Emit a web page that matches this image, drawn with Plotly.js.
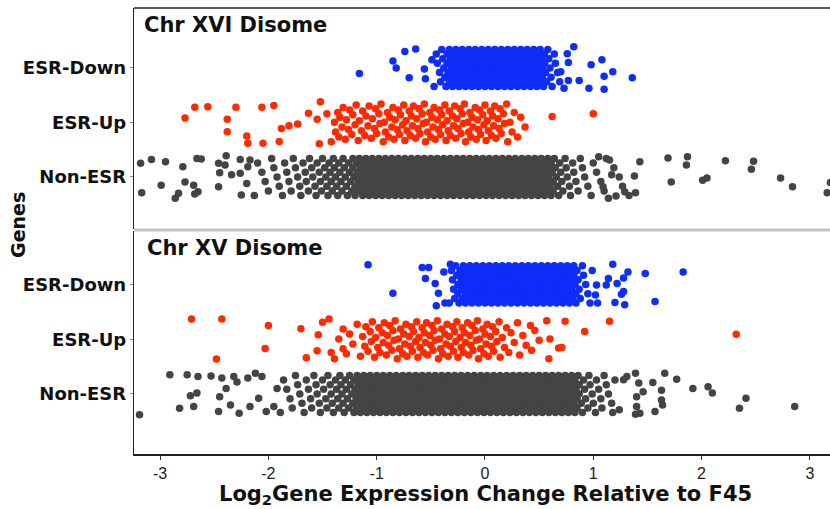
<!DOCTYPE html>
<html><head><meta charset="utf-8">
<script src="https://cdn.plot.ly/plotly-3.0.1.min.js"></script>
<style>html,body{margin:0;padding:0;background:#fff}#chart{width:830px;height:509px}</style>
</head><body><div id="chart"></div>
<script>
// ---- categories / labels ----
const categories = ['Non-ESR', 'ESR-Up', 'ESR-Down'];
const panelTitles = ['Chr XVI Disome', 'Chr XV Disome'];
const xTickVals = [-3, -2, -1, 0, 1, 2, 3];
const xTickText = ['-3', '-2', '-1', '0', '1', '2', '3'];
const xTitle = 'Log<sub>2</sub>Gene Expression Change Relative to F45';
const yTitle = 'Genes';
// jitter offsets (category units) cycled over the point lists
const jitterDense = [-0.34, 0.255, 0.085, -0.085, -0.255, 0.34, 0.17, 0, -0.17];
const jitterLoose = [-0.355,0.005,-0.175,0.185,-0.265,0.095,-0.085,0.275,-0.31,0.05,-0.13,0.23,-0.22,0.14,-0.04,0.32,
                     -0.33,0.03,-0.15,0.21,-0.24,0.12,-0.06,0.3,-0.29,0.07,-0.11,0.25,-0.2,0.16,-0.02,0.34];

// ===== Chr XVI (top panel) =====
const xviNonX = [-2.13,-2.1,-2.06,-2.03,-2,-1.97,-1.95,-1.92,-1.9,-1.87,-1.85,-1.83,-1.81,-1.79,-1.77,-1.75,-1.73,-1.71,-1.7,-1.68,-1.66,-1.65,-1.63,-1.62,-1.6,-1.59,-1.57,-1.56,-1.55,-1.53,-1.52,-1.51,-1.5,-1.48,-1.47,-1.46,-1.45,-1.44,-1.43,-1.42,-1.41,-1.4,-1.39,-1.38,-1.37,-1.36,-1.35,-1.34,-1.33,-1.32,-1.31,-1.3,-1.29,-1.28,-1.27,-1.26,-1.25,-1.24,-1.23,-1.22,-1.22,-1.21,-1.2,-1.2,-1.19,
-1.18,-1.17,-1.17,-1.16,-1.15,-1.15,-1.14,-1.13,-1.13,-1.12,-1.11,-1.11,-1.1,-1.09,-1.09,-1.08,-1.07,-1.07,-1.06,-1.05,-1.05,-1.04,-1.03,-1.03,-1.02,-1.01,-1.01,-1,-0.99,-0.99,-0.98,-0.97,-0.97,-0.96,-0.95,-0.95,-0.94,-0.93,-0.93,-0.92,-0.91,-0.91,-0.9,-0.89,-0.89,-0.88,-0.87,-0.87,-0.86,-0.85,-0.85,-0.84,-0.83,-0.83,-0.82,-0.81,-0.81,-0.8,-0.79,-0.79,-0.78,-0.77,-0.77,-0.76,-0.75,-0.75,-0.74,-0.73,-0.73,-0.72,-0.71,-0.71,-0.7,-0.69,-0.69,-0.68,-0.67,-0.67,-0.66,-0.65,-0.65,-0.64,-0.63,-0.63,-0.62,-0.61,-0.61,-0.6,-0.59,-0.59,-0.58,-0.57,-0.57,-0.56,-0.55,-0.55,-0.54,-0.53,-0.53,-0.52,-0.51,-0.51,-0.5,-0.49,-0.49,-0.48,-0.47,-0.47,-0.46,-0.45,-0.45,-0.44,-0.43,-0.43,-0.42,-0.41,-0.41,-0.4,-0.39,-0.39,-0.38,-0.37,-0.37,-0.36,-0.35,-0.35,-0.34,-0.33,-0.33,-0.32,-0.31,-0.31,-0.3,-0.29,-0.29,-0.28,-0.27,-0.27,-0.26,-0.25,-0.25,-0.24,-0.23,-0.23,-0.22,-0.21,-0.21,-0.2,-0.19,-0.19,-0.18,-0.17,-0.17,-0.16,-0.15,-0.15,-0.14,-0.13,-0.13,-0.12,-0.11,-0.11,-0.1,-0.09,-0.09,-0.08,-0.07,-0.07,-0.06,-0.05,-0.05,-0.04,-0.03,-0.03,-0.02,-0.01,-0.01,0,0.01,0.01,0.02,0.03,0.03,0.04,0.05,0.05,0.06,0.07,0.07,0.08,0.09,0.09,0.1,0.11,0.11,0.12,0.13,0.13,0.14,0.15,0.15,0.16,0.17,0.17,0.18,0.19,0.19,0.2,0.21,0.21,0.22,0.23,0.23,0.24,0.25,0.25,0.26,0.27,0.27,0.28,0.29,0.29,0.3,0.31,0.31,0.32,0.33,0.33,0.34,0.35,0.35,0.36,0.37,0.37,0.38,0.39,0.39,0.4,0.41,0.41,0.42,0.43,0.43,0.44,0.45,0.45,0.46,0.47,0.47,0.48,0.49,0.49,0.5,0.51,0.51,0.52,0.53,0.53,0.54,0.55,0.55,0.56,0.57,0.57,0.58,0.59,0.59,0.6,0.61,0.61,0.62,0.63,0.63,
0.64,0.65,0.66,0.67,0.68,0.69,0.7,0.71,0.72,0.74,0.75,0.76,0.78,0.79,0.81,0.82,0.84,0.86,0.88,0.9,0.92,0.95,0.98,1,1.03,1.07,1.1,1.12,1.19,1.24,1.27,1.33];
const xviNonOutX = [-3.18,-3.17,-3.08,-2.99,-2.95,-2.86,-2.83,-2.79,-2.77,-2.69,-2.66,-2.62,-2.65,-2.68,-2.46,-2.45,-2.46,-2.39,-2.4,-2.34,-2.25,-2.26,-2.26,-2.19,-2.2,-2.17,
1.05,1.15,1.17,1.09,1.21,1.14,1.29,1.39,1.38,1.43,1.69,1.87,1.86,1.72,2.01,2.05,2.22,2.48,2.46,2.73,2.84,3.16,3.19];
const xviNonOutJ = [0.25,-0.29,0.32,-0.15,0.28,-0.39,-0.3,0.19,-0.09,-0.15,0.34,0.33,-0.27,-0.31,0.25,0.08,-0.18,0.39,0.22,0.04,-0.33,0.32,0.07,0.19,-0.12,0.31,
0.37,0.31,0.04,-0.18,-0.35,-0.39,-0.27,-0.29,0.02,0.28,0.35,0.37,0.22,-0.09,-0.06,-0.02,0.3,0.29,0.14,-0.02,-0.18,-0.29,-0.1];

const xviUpX = [-1.42,-1.39,-1.38,-1.36,-1.35,-1.34,-1.32,-1.31,-1.29,-1.28,-1.26,-1.25,-1.23,-1.22,-1.2,-1.19,-1.17,-1.16,-1.14,-1.13,-1.11,-1.1,-1.08,-1.07,-1.05,-1.04,-1.02,-1.01,-1,-0.98,-0.97,-0.96,-0.94,-0.93,-0.92,-0.9,-0.89,-0.88,-0.86,-0.85,-0.84,-0.83,-0.81,-0.8,-0.79,-0.78,-0.76,-0.75,-0.74,-0.73,-0.72,-0.7,-0.69,-0.68,-0.67,-0.66,-0.64,-0.63,-0.62,-0.61,-0.6,-0.58,-0.57,-0.56,-0.55,-0.54,-0.53,-0.51,-0.5,-0.49,-0.48,-0.47,-0.46,-0.44,-0.43,-0.42,-0.41,-0.4,-0.39,-0.37,-0.36,-0.35,-0.34,-0.33,-0.32,-0.3,-0.29,-0.28,-0.27,-0.26,-0.25,-0.23,-0.22,-0.21,-0.2,-0.19,-0.18,-0.16,-0.15,-0.14,-0.13,-0.12,-0.11,-0.09,-0.08,-0.07,-0.06,-0.05,-0.04,-0.02,-0.01,0,0.01,0.02,0.03,0.05,0.06,0.07,0.08,0.09,0.1,0.12,0.13,0.14,0.15,0.17,0.18,0.2,0.21,0.23,0.25,0.27,0.3,0.33,0.37];
const xviUpOutX = [-2.68,-2.56,-2.77,-2.3,-2.38,-2.38,-2.06,-1.95,-2.2,-2.19,-2.05,-1.9,-1.88,-1.81,-1.73,-1.63,-1.55,-1.52,-1.53,-1.46,0.62,1];
const xviUpOutJ = [0.28,0.29,0.08,0.28,0.06,-0.17,0.28,0.31,-0.25,-0.38,-0.38,-0.35,-0.11,-0.06,-0.03,0.17,0.06,0.38,-0.39,0.16,0.11,0.16];

const xviDownX = [-0.47,-0.45,-0.44,-0.42,-0.41,-0.4,-0.39,-0.38,-0.37,-0.36,-0.35,-0.35,-0.34,-0.33,-0.33,
-0.32,-0.31,-0.31,-0.3,-0.29,-0.29,-0.28,-0.27,-0.27,-0.26,-0.25,-0.25,-0.24,-0.23,-0.23,-0.22,-0.21,-0.21,-0.2,-0.19,-0.19,-0.18,-0.17,-0.17,-0.16,-0.15,-0.15,-0.14,-0.13,-0.13,-0.12,-0.11,-0.11,-0.1,-0.09,-0.09,-0.08,-0.07,-0.07,-0.06,-0.05,-0.05,-0.04,-0.03,-0.03,-0.02,-0.01,-0.01,0,0.01,0.01,0.02,0.03,0.03,0.04,0.05,0.05,0.06,0.07,0.07,0.08,0.09,0.09,0.1,0.11,0.11,0.12,0.13,0.13,0.14,0.15,0.15,0.16,0.17,0.17,0.18,0.19,0.19,0.2,0.21,0.21,0.22,0.23,0.23,0.24,0.25,0.25,0.26,0.27,0.27,0.28,0.29,0.29,0.3,0.31,0.31,0.32,0.33,0.33,0.34,0.35,0.35,0.36,0.37,0.37,0.38,0.39,0.39,0.4,0.41,0.41,0.42,0.43,0.43,0.44,0.45,0.45,0.46,0.47,0.47,0.48,0.49,0.49,0.5,0.51,0.51,0.52,0.53,0.53,0.54,0.55,0.55,
0.56,0.57,0.58,0.59,0.6,0.61,0.62,0.64,0.65,0.67,0.69];
const xviDownOutX = [-1.16,-0.85,-0.82,-0.74,-0.64,-0.7,-0.56,-0.55,-0.49,0.82,0.76,0.77,0.7,0.77,0.73,0.87,0.98,1.08,0.96,1.1,1.1,1.18,1.36];
const xviDownOutJ = [-0.1,0.13,0,0.3,0.35,-0.18,-0.02,-0.2,0.15,0.39,0.26,0.1,-0.07,-0.23,-0.37,-0.23,0.06,0.15,-0.37,-0.15,-0.39,-0.07,-0.18];

// ===== Chr XV (bottom panel) =====
const xvNonX = [-1.89,-1.86,-1.83,-1.8,-1.78,-1.75,-1.73,-1.71,-1.69,-1.67,-1.65,-1.63,-1.61,-1.6,-1.58,-1.56,-1.55,-1.53,-1.52,-1.5,-1.49,-1.47,-1.46,-1.45,-1.43,-1.42,-1.41,-1.4,-1.38,-1.37,-1.36,-1.35,-1.34,-1.33,-1.32,-1.31,-1.3,-1.29,-1.28,-1.27,-1.26,-1.25,-1.24,-1.23,-1.22,-1.21,-1.21,-1.2,-1.19,-1.19,-1.18,-1.17,-1.17,
-1.16,-1.15,-1.15,-1.14,-1.13,-1.13,-1.12,-1.11,-1.11,-1.1,-1.09,-1.09,-1.08,-1.07,-1.07,-1.06,-1.05,-1.05,-1.04,-1.03,-1.03,-1.02,-1.01,-1.01,-1,-0.99,-0.99,-0.98,-0.97,-0.97,-0.96,-0.95,-0.95,-0.94,-0.93,-0.93,-0.92,-0.91,-0.91,-0.9,-0.89,-0.89,-0.88,-0.87,-0.87,-0.86,-0.85,-0.85,-0.84,-0.83,-0.83,-0.82,-0.81,-0.81,-0.8,-0.79,-0.79,-0.78,-0.77,-0.77,-0.76,-0.75,-0.75,-0.74,-0.73,-0.73,-0.72,-0.71,-0.71,-0.7,-0.69,-0.69,-0.68,-0.67,-0.67,-0.66,-0.65,-0.65,-0.64,-0.63,-0.63,-0.62,-0.61,-0.61,-0.6,-0.59,-0.59,-0.58,-0.57,-0.57,-0.56,-0.55,-0.55,-0.54,-0.53,-0.53,-0.52,-0.51,-0.51,-0.5,-0.49,-0.49,-0.48,-0.47,-0.47,-0.46,-0.45,-0.45,-0.44,-0.43,-0.43,-0.42,-0.41,-0.41,-0.4,-0.39,-0.39,-0.38,-0.37,-0.37,-0.36,-0.35,-0.35,-0.34,-0.33,-0.33,-0.32,-0.31,-0.31,-0.3,-0.29,-0.29,-0.28,-0.27,-0.27,-0.26,-0.25,-0.25,-0.24,-0.23,-0.23,-0.22,-0.21,-0.21,-0.2,-0.19,-0.19,-0.18,-0.17,-0.17,-0.16,-0.15,-0.15,-0.14,-0.13,-0.13,-0.12,-0.11,-0.11,-0.1,-0.09,-0.09,-0.08,-0.07,-0.07,-0.06,-0.05,-0.05,-0.04,-0.03,-0.03,-0.02,-0.01,-0.01,0,0.01,0.01,0.02,0.03,0.03,0.04,0.05,0.05,0.06,0.07,0.07,0.08,0.09,0.09,0.1,0.11,0.11,0.12,0.13,0.13,0.14,0.15,0.15,0.16,0.17,0.17,0.18,0.19,0.19,0.2,0.21,0.21,0.22,0.23,0.23,0.24,0.25,0.25,0.26,0.27,0.27,0.28,0.29,0.29,0.3,0.31,0.31,0.32,0.33,0.33,0.34,0.35,0.35,0.36,0.37,0.37,0.38,0.39,0.39,0.4,0.41,0.41,0.42,0.43,0.43,0.44,0.45,0.45,0.46,0.47,0.47,0.48,0.49,0.49,0.5,0.51,0.51,0.52,0.53,0.53,0.54,0.55,0.55,0.56,0.57,0.57,0.58,0.59,0.59,0.6,0.61,0.61,0.62,0.63,0.63,0.64,0.65,0.65,0.66,0.67,0.67,0.68,0.69,0.69,0.7,0.71,0.71,0.72,0.73,0.73,0.74,0.75,0.75,0.76,0.77,0.77,0.78,0.79,0.79,0.8,0.81,0.81,0.82,0.83,0.83,0.84,0.85,0.85,0.86,0.87,0.87,
0.89,0.9,0.91,0.92,0.93,0.95,0.96,0.97,0.99,1,1.02,1.03,1.05,1.07,1.08,1.1,1.12,1.14,1.17,1.18,1.2];
const xvNonOutX = [-3.19,-2.91,-2.82,-2.75,-2.72,-2.65,-2.69,-2.66,-2.53,-2.45,-2.46,-2.43,-2.39,-2.32,-2.35,-2.27,-2.29,-2.19,-2.17,-2.12,-2.06,-2.09,-2.02,-1.95,-1.92,
1.66,1.77,1.92,2.06,2.1,1.63,1.63,1.64,1.57,1.55,2.41,2.35,2.86,1.46,1.42,1.39,1.4,1.4,1.39,1.43,1.31,1.28,1.24];
const xvNonOutJ = [-0.38,0.35,-0.26,0.35,-0.03,0.32,-0.23,0.02,0.33,-0.05,-0.32,0.29,0.1,0.32,-0.2,-0.35,0.22,0.29,-0.23,0.38,0.32,-0.08,-0.32,-0.23,0.1,
0.38,0.27,0.1,0.13,0.02,0.07,-0.11,-0.2,-0.32,0.21,-0.08,-0.26,-0.23,0.04,0.2,0.38,-0.05,-0.23,-0.37,-0.35,0.32,0.26,-0.29];

const xvUpX = [-1.39,-1.35,-1.31,-1.31,-1.28,-1.25,-1.22,-1.18,-1.15,-1.13,-1.11,-1.1,-1.08,-1.06,-1.05,-1.04,-1.02,-1.01,-0.99,-0.98,-0.97,-0.95,-0.94,-0.93,-0.91,-0.9,-0.89,-0.88,-0.86,-0.85,-0.84,-0.83,-0.81,-0.8,-0.79,-0.78,-0.76,-0.75,-0.74,-0.73,-0.72,-0.7,-0.69,-0.68,-0.67,-0.66,-0.64,-0.63,-0.62,-0.61,-0.6,-0.58,-0.57,-0.56,-0.55,-0.54,-0.53,-0.51,-0.5,-0.49,-0.48,-0.47,-0.46,-0.44,-0.43,-0.42,-0.41,-0.4,-0.39,-0.37,-0.36,-0.35,-0.34,-0.33,-0.32,-0.3,-0.29,-0.28,-0.27,-0.26,-0.25,-0.23,-0.22,-0.21,-0.2,-0.19,-0.18,-0.16,-0.15,-0.14,-0.13,-0.12,-0.11,-0.09,-0.08,-0.07,-0.06,-0.05,-0.04,-0.02,-0.01,0,0.01,0.02,0.03,0.05,0.06,0.07,0.08,0.1,0.11,0.13,0.14,0.16,0.18,0.2,0.22,0.24,0.27,0.3,0.32,0.35,0.38,0.42,0.43,0.46,0.5,0.57,0.59,0.6];
const xvUpOutX = [-2.71,-2.43,-2.48,-2,-2.03,-1.7,-1.65,-1.5,-1.44,-1.54,-1.55,-1.42,0.92,1.15,2.32,0.74,0.71,0.68];
const xvUpOutJ = [0.37,0.37,-0.36,0.25,-0.17,0.19,-0.34,0.31,0.37,0.08,-0.21,-0.24,0.14,0.33,0.09,0.33,-0.15,-0.16];

const xvDownX = [-0.33,-0.31,-0.3,-0.29,-0.28,-0.27,-0.26,-0.25,-0.25,-0.24,
-0.23,-0.22,-0.22,-0.21,-0.2,-0.2,-0.19,-0.18,-0.18,-0.17,-0.16,-0.16,-0.15,-0.14,-0.14,-0.13,-0.12,-0.12,-0.11,-0.1,-0.1,-0.09,-0.08,-0.08,-0.07,-0.06,-0.06,-0.05,-0.04,-0.04,-0.03,-0.02,-0.02,-0.01,0,0,0.01,0.02,0.02,0.03,0.04,0.04,0.05,0.06,0.06,0.07,0.08,0.08,0.09,0.1,0.1,0.11,0.12,0.12,0.13,0.14,0.14,0.15,0.16,0.16,0.17,0.18,0.18,0.19,0.2,0.2,0.21,0.22,0.22,0.23,0.24,0.24,0.25,0.26,0.26,0.27,0.28,0.28,0.29,0.3,0.3,0.31,0.32,0.32,0.33,0.34,0.34,0.35,0.36,0.36,0.37,0.38,0.38,0.39,0.4,0.4,0.41,0.42,0.42,0.43,0.44,0.44,0.45,0.46,0.46,0.47,0.48,0.48,0.49,0.5,0.5,0.51,0.52,0.52,0.53,0.54,0.54,0.55,0.56,0.56,0.57,0.58,0.58,0.59,0.6,0.6,0.61,0.62,0.62,0.63,0.64,0.64,0.65,0.66,0.66,0.67,0.68,0.68,0.69,0.7,0.7,0.71,0.72,0.72,0.73,0.74,0.74,0.75,0.76,0.76,0.77,0.78,0.78,0.79,0.8,0.8,0.81,0.82,0.82,0.83,0.84,0.84,
0.85,0.86,0.87,0.88,0.9,0.91,0.93,0.95,0.97,0.99];
const xvDownOutX = [-1.08,-0.85,-0.58,-0.52,-0.55,-0.46,-0.43,-0.45,-0.38,-0.32,-0.37,1.18,1.32,1.28,1.22,1.28,1.26,1.2,1.29,1.48,1.83,1.57,1.03,1.14,1.12,1.04,1.02];
const xvDownOutJ = [0.36,-0.16,0.31,0.31,0.11,0.02,-0.16,-0.39,0.23,0.37,-0.34,0.37,0.23,0.12,0.02,-0.13,-0.18,-0.33,-0.37,0.2,0.23,-0.31,-0.01,0.11,-0.01,-0.34,-0.19];

const colors = ['#444444', '#ff2a00', '#0f2df8'];

function group(coreX, outX, outJ, level, color, jit, xa, ya) {
  const y = coreX.map((v, i) => level + jit[i % jit.length])
                 .concat(outJ.map(j => level + j));
  return {
    type: 'scatter', mode: 'markers', x: coreX.concat(outX), y: y,
    xaxis: xa, yaxis: ya, hoverinfo: 'skip', showlegend: false, cliponaxis: true,
    marker: {size: 7.5, color: color, line: {width: 0}}
  };
}

const traces = [
  group(xviNonX, xviNonOutX, xviNonOutJ, 1, colors[0], jitterDense, 'x2', 'y2'),
  group(xviUpX, xviUpOutX, xviUpOutJ, 2, colors[1], jitterLoose, 'x2', 'y2'),
  group(xviDownX, xviDownOutX, xviDownOutJ, 3, colors[2], jitterDense, 'x2', 'y2'),
  group(xvNonX, xvNonOutX, xvNonOutJ, 1, colors[0], jitterDense, 'x', 'y'),
  group(xvUpX, xvUpOutX, xvUpOutJ, 2, colors[1], jitterLoose, 'x', 'y'),
  group(xvDownX, xvDownOutX, xvDownOutJ, 3, colors[2], jitterDense, 'x', 'y')
];

const catFont = {family: 'DejaVu Sans', size: 18, color: '#111', weight: 'bold'};
const yCommon = {
  tickmode: 'array', tickvals: [1, 2, 3], ticktext: categories,
  tickfont: catFont, ticks: 'outside', ticklen: 3, tickcolor: '#888',
  showline: true, linecolor: '#222', linewidth: 1.2,
  showgrid: false, zeroline: false, fixedrange: true
};
const xRange = [-3.241, 3.186];

const layout = {
  width: 830, height: 509,
  margin: {l: 134, r: 0, t: 8, b: 55},
  paper_bgcolor: '#fff', plot_bgcolor: '#fff',
  xaxis: {
    domain: [0, 1], anchor: 'y', range: xRange,
    tickmode: 'array', tickvals: xTickVals, ticktext: xTickText,
    tickfont: {family: 'Liberation Sans', size: 16, color: '#1a1a1a'},
    ticks: 'outside', ticklen: 4, tickcolor: '#333',
    showline: true, linecolor: '#222', linewidth: 1.5,
    showgrid: false, zeroline: false, fixedrange: true
  },
  xaxis2: {
    domain: [0, 1], anchor: 'y2', range: xRange, matches: 'x',
    showticklabels: false, ticks: '', showline: false,
    showgrid: false, zeroline: false, fixedrange: true
  },
  yaxis: Object.assign({domain: [0, 0.4989], anchor: 'x', range: [-0.096, 3.968]}, yCommon),
  yaxis2: Object.assign({domain: [0.5056, 1], anchor: 'x2', range: [0.055, 4.10]}, yCommon),
  shapes: [
    {type: 'line', xref: 'paper', yref: 'paper', x0: 0, x1: 1, y0: 1, y1: 1,
     line: {color: '#222', width: 1.5}},
    {type: 'line', xref: 'paper', yref: 'paper', x0: 0, x1: 1, y0: 0.5022, y1: 0.5022,
     line: {color: '#c4c4c4', width: 3}}
  ],
  annotations: [
    {xref: 'paper', yref: 'paper', x: 0.0115, y: 0.9619, xanchor: 'left', yanchor: 'middle',
     text: '<b>' + panelTitles[0] + '</b>', showarrow: false,
     font: {family: 'DejaVu Sans', size: 21, color: '#111'}},
    {xref: 'paper', yref: 'paper', x: 0.0158, y: 0.4619, xanchor: 'left', yanchor: 'middle',
     text: '<b>' + panelTitles[1] + '</b>', showarrow: false,
     font: {family: 'DejaVu Sans', size: 21, color: '#111'}},
    {xref: 'paper', yref: 'paper', x: 0.5057, y: -0.0919, xanchor: 'center', yanchor: 'middle',
     text: '<b>' + xTitle + '</b>', showarrow: false,
     font: {family: 'DejaVu Sans', size: 21, color: '#111'}},
    {xref: 'paper', yref: 'paper', x: -0.1667, y: 0.5135, xanchor: 'center', yanchor: 'middle',
     text: '<b>' + yTitle + '</b>', textangle: -90, showarrow: false,
     font: {family: 'DejaVu Sans', size: 19, color: '#111'}}
  ]
};

Plotly.newPlot('chart', traces, layout, {displayModeBar: false, staticPlot: true});
</script>
</body></html>
